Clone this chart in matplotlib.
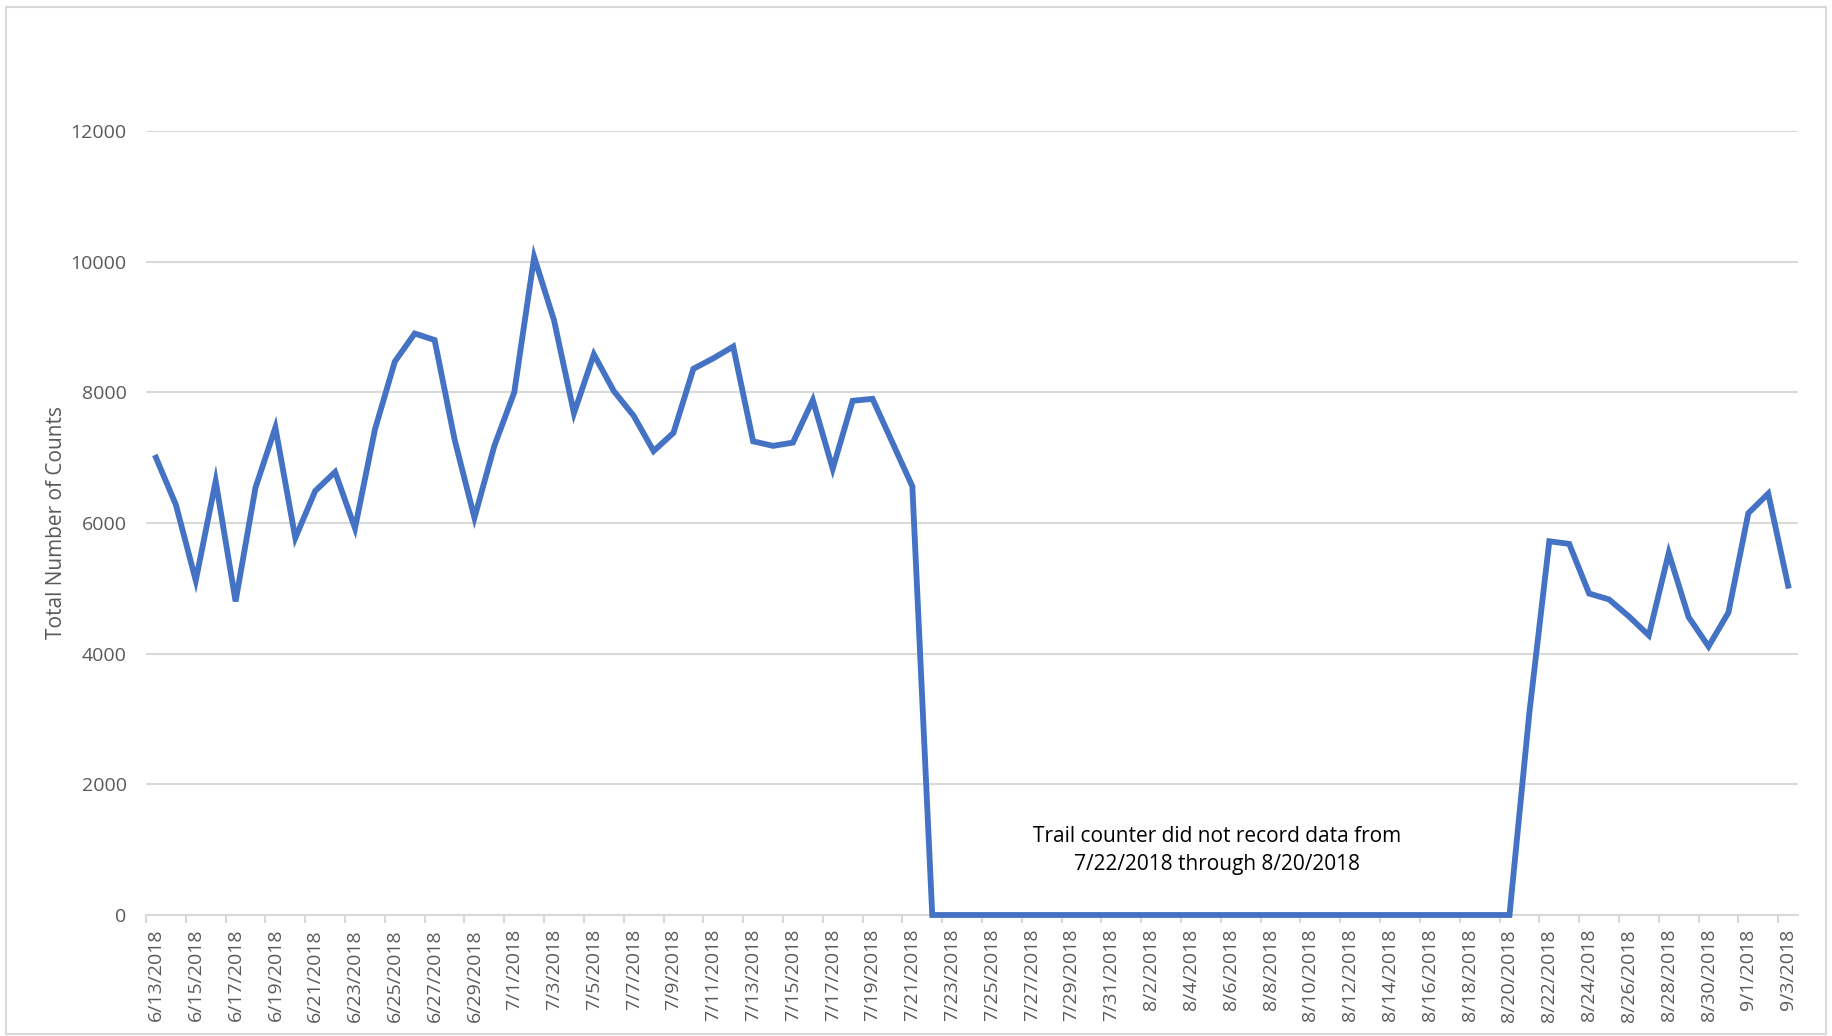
import matplotlib
matplotlib.use("Agg")
import matplotlib.pyplot as plt
import pandas as pd
from matplotlib.patches import Rectangle

# daily counts, 6/13/2018 - 9/3/2018 (no data recorded 7/22 - 8/20 -> 0)
dates = pd.date_range("2018-06-13", "2018-09-03", freq="D")
june = [7000, 6280, 5120, 6640, 4800, 6540, 7460, 5770, 6490, 6780, 5920, 7430,
        8470, 8900, 8800, 7280, 6080, 7180]
july = [8000, 10070, 9100, 7680, 8580, 8020, 7640, 7100, 7380, 8360, 8520, 8700,
        7250, 7180, 7230, 7880, 6830, 7870, 7900, 7230, 6560] + [0] * 10
august = [0] * 20 + [3100, 5720, 5680, 4920, 4830, 4570, 4280, 5540, 4560, 4110, 4630]
september = [6150, 6450, 5040]
counts = june + july + august + september

labels = [f"{d.month}/{d.day}/{d.year}" for d in dates]
y_ticks = [0, 2000, 4000, 6000, 8000, 10000, 12000]
note = "Trail counter did not record data from\n7/22/2018 through 8/20/2018"

plt.rcParams["font.family"] = ["Open Sans", "DejaVu Sans"]
grey = "#595959"
grid = "#D9D9D9"

fig = plt.figure(figsize=(18.32, 10.36), dpi=100)
ax = fig.add_axes([0.0797, 0.1168, 0.9018, 0.7568])

x = list(range(len(counts)))
ax.plot(x, counts, color="#4472C4", lw=4.2, solid_joinstyle="miter", clip_on=False, zorder=3)

ax.set_xlim(-0.5, len(counts) - 0.5)
ax.set_ylim(0, 12000)
ax.set_yticks(y_ticks)
ax.set_yticklabels([str(v) for v in y_ticks])
ax.grid(axis="y", color=grid, lw=1.5)
ax.set_axisbelow(True)

ax.set_xticks(x[::2])
ax.set_xticklabels(labels[::2], rotation=90)
ax.set_xticks([i - 0.5 for i in range(0, len(counts), 2)], minor=True)
ax.tick_params(axis="x", which="major", length=0, pad=10, labelsize=14, labelcolor=grey)
ax.tick_params(axis="x", which="minor", length=6, width=1.5, color=grid)
ax.tick_params(axis="y", length=0, pad=14, labelsize=14, labelcolor=grey)

for s in ["top", "right", "left"]:
    ax.spines[s].set_visible(False)
ax.spines["bottom"].set_color(grid)
ax.spines["bottom"].set_linewidth(1.5)

ax.set_ylabel("Total Number of Counts", fontsize=15, color=grey)
ax.yaxis.set_label_coords(-0.048, 0.5)
ax.text(53.3, 990, note, ha="center", va="center", fontsize=15, color="black",
        linespacing=1.45)

fig.patches.append(Rectangle((6 / 1832, 2 / 1036), 1820 / 1832, 1027 / 1036,
                             transform=fig.transFigure, fill=False,
                             edgecolor="#D9D9D9", lw=1.5))

fig.savefig("out.png", dpi=100)
